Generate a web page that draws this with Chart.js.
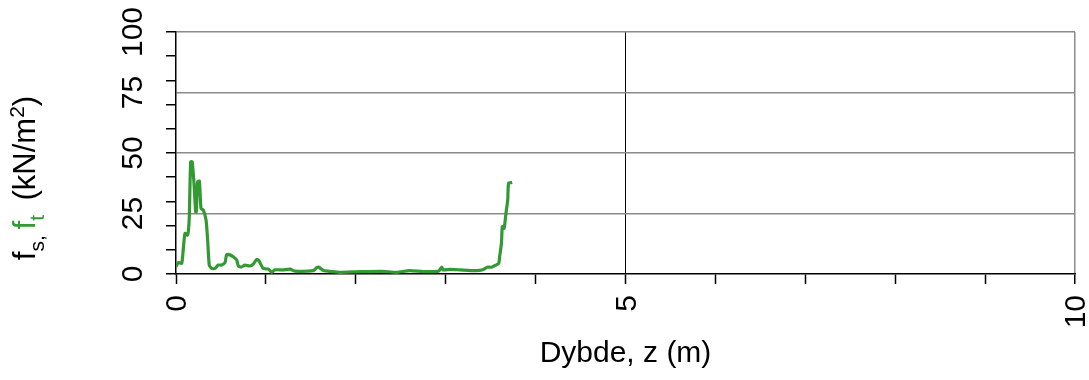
<!DOCTYPE html>
<html>
<head>
<meta charset="utf-8">
<script src="https://cdn.jsdelivr.net/npm/chart.js@4.4.1/dist/chart.umd.min.js"></script>
<style>
  html, body { margin: 0; padding: 0; background: #ffffff; }
  #wrap { width: 1089px; height: 380px; }
</style>
</head>
<body>
<div id="wrap"><canvas id="c" width="1089" height="380"></canvas></div>
<script>
// Depth along the profile (m)
const depth = [0, 0.026, 0.063, 0.08, 0.1, 0.126, 0.137, 0.148, 0.163, 0.18, 0.2, 0.219, 0.226, 0.24, 0.26,
  0.278, 0.304, 0.334, 0.352, 0.37, 0.397, 0.434, 0.47, 0.508, 0.545, 0.563, 0.6, 0.64, 0.675, 0.694, 0.73,
  0.767, 0.82, 0.86, 0.897, 0.92, 0.95, 0.97, 1.03, 1.064, 1.1, 1.19, 1.27, 1.32, 1.53, 1.565, 1.59, 1.64,
  1.73, 1.82, 2.05, 2.3, 2.45, 2.6, 2.75, 2.92, 2.955, 2.97, 3.05, 3.16, 3.34, 3.42, 3.46, 3.51, 3.56, 3.59,
  3.6, 3.62, 3.63, 3.65, 3.67, 3.69, 3.70, 3.74];
// Sleeve friction f_t (kN/m2)
const friction = [3, 4.7, 4.4, 9.9, 16.8, 16, 17.5, 23.7, 46.4, 46.4, 37.5, 25.7, 25.7, 38.1, 38.4,
  27.1, 26.4, 22.3, 14, 3.7, 2.3, 2.3, 3.7, 3.7, 4.7, 7.9, 7.9, 7, 5.8, 3.3, 2.9,
  3.7, 3.3, 4.1, 6, 5.6, 3.5, 2.3, 2, 0.7, 1.7, 1.7, 2, 1.2, 1.4, 2.6, 2.8, 1.4,
  1, 0.7, 1, 1.1, 0.7, 1.4, 1, 1.2, 2.8, 1.7, 1.9, 1.7, 1.4, 1.9, 2.8, 2.8, 3.7, 4.4,
  7.2, 12.7, 19.6, 18.9, 25, 30.6, 37.5, 37.8];

// Axis tick positions and which of them get labels / grid lines
const xTicks = [0, 1, 2, 3, 4, 5, 6, 7, 8, 9, 10];
const xLabelled = [0, 5, 10];
const yTicks = [0, 10, 20, 25, 30, 40, 50, 60, 70, 75, 80, 90, 100];
const yLabelled = [0, 25, 50, 75, 100];
const yGrid = [25, 50, 75, 100];

const GREEN = '#339933';
const GRID = '#8a8a8a';
const NONE = 'rgba(0,0,0,0)';
const FONT = "'Liberation Sans', Arial, sans-serif";

// Y axis title with subscripts, superscript and a coloured symbol
const yTitlePlugin = {
  id: 'yTitle',
  afterDraw(chart) {
    const ctx = chart.ctx;
    const F = 31, S = 21;
    const runs = [
      { t: 'f', size: F, dy: 0, c: '#000' },
      { t: 's, ', size: S, dy: 9, c: '#000' },
      { t: 'f', size: F, dy: 0, c: GREEN },
      { t: 't ', size: S, dy: 9, c: GREEN },
      { t: ' (kN/m', size: F, dy: 0, c: '#000' },
      { t: '2', size: S, dy: -11, c: '#000' },
      { t: ')', size: F, dy: 0, c: '#000' }
    ];
    ctx.save();
    let total = 0;
    runs.forEach(r => { ctx.font = r.size + 'px ' + FONT; r.w = ctx.measureText(r.t).width; total += r.w; });
    const cx = 35, cy = 178;
    ctx.translate(cx, cy);
    ctx.rotate(-Math.PI / 2);
    ctx.textBaseline = 'alphabetic';
    ctx.textAlign = 'left';
    let x = -total / 2;
    runs.forEach(r => {
      ctx.font = r.size + 'px ' + FONT;
      ctx.fillStyle = r.c;
      ctx.fillText(r.t, x, r.dy);
      x += r.w;
    });
    ctx.restore();
  }
};

new Chart(document.getElementById('c'), {
  type: 'line',
  data: {
    datasets: [{
      label: 'f_t',
      data: depth.map((z, i) => ({ x: z, y: friction[i] })),
      borderColor: GREEN,
      borderWidth: 3.2,
      pointRadius: 0,
      tension: 0.2,
      fill: false
    }]
  },
  options: {
    responsive: false,
    animation: false,
    layout: { padding: { left: 0, right: 14, top: 32, bottom: 0 } },
    plugins: { legend: { display: false }, tooltip: { enabled: false } },
    scales: {
      x: {
        type: 'linear',
        position: 'bottom',
        min: 0, max: 10,
        afterBuildTicks: s => { s.ticks = xTicks.map(v => ({ value: v })); },
        afterFit: s => { s.height = 106; s.paddingLeft = 0; s.paddingRight = 0; },
        ticks: {
          autoSkip: false,
          minRotation: 90, maxRotation: 90,
          padding: 11,
          labelOffset: 2,
          color: '#000',
          font: { family: FONT, size: 30 },
          callback: v => xLabelled.includes(v) ? String(v) : ''
        },
        grid: {
          color: c => c.tick && c.tick.value === 5 ? '#000' : (c.tick && c.tick.value === 10 ? GRID : NONE),
          lineWidth: c => c.tick && c.tick.value === 10 ? 1.5 : 1,
          tickColor: '#000',
          tickLength: 10,
          tickWidth: 1.5
        },
        border: { color: '#000', width: 1.5 },
        title: {
          display: true,
          text: 'Dybde, z (m)',
          color: '#000',
          font: { family: FONT, size: 30 },
          padding: { top: 0, bottom: 8 }
        }
      },
      y: {
        type: 'linear',
        position: 'left',
        min: 0, max: 100,
        afterBuildTicks: s => { s.ticks = yTicks.map(v => ({ value: v })); },
        afterFit: s => { s.width = 176; s.paddingTop = 0; s.paddingBottom = 0; },
        ticks: {
          autoSkip: false,
          minRotation: 90, maxRotation: 90,
          crossAlign: 'center',
          padding: 7,
          color: '#000',
          font: { family: FONT, size: 30 },
          callback: v => yLabelled.includes(v) ? String(v) : ''
        },
        grid: {
          color: c => c.tick && yGrid.includes(c.tick.value) ? GRID : NONE,
          lineWidth: 1.5,
          tickColor: c => c.tick && c.tick.value % 10 === 0 ? '#000' : NONE,
          tickLength: 10,
          tickWidth: 1.5
        },
        border: { color: '#000', width: 1.5 }
      }
    }
  },
  plugins: [yTitlePlugin]
});
</script>
</body>
</html>
